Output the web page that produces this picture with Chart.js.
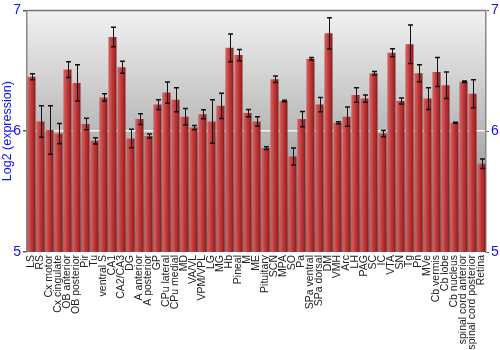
<!DOCTYPE html>
<html>
<head>
<meta charset="utf-8">
<script src="https://cdn.jsdelivr.net/npm/chart.js@4"></script>
<style>
  html, body { margin: 0; padding: 0; background: #fff; }
  #wrap { width: 500px; height: 350px; }
</style>
</head>
<body>
<div id="wrap"><canvas id="chartExpr"></canvas></div>
<script>
const regions = ['LS', 'RS', 'Cx motor', 'Cx cingulate', 'OB anterior', 'OB posterior', 'Pir', 'Tu',
    'ventral S', 'CA1', 'CA2/CA3', 'DG', 'A anterior', 'A posterior', 'GP', 'CPu lateral', 'CPu medial',
    'MD', 'VA/VL', 'VPM/VPL', 'LG', 'MG', 'Hb', 'Pineal', 'M', 'ME', 'Pituitary', 'SCN', 'MPA', 'SO', 'Pa',
    'SPa ventral', 'SPa dorsal', 'DM', 'VMH', 'Arc', 'LH', 'PAG', 'SC', 'IC', 'VTA', 'SN', 'Tg', 'Pn',
    'MVe', 'Cb vermis', 'Cb lobe', 'Cb nucleus', 'spinal cord anterior', 'spinal cord posterior', 'Retina'];

const expression = [6.45, 6.08, 6.01, 5.98, 6.51, 6.40, 6.06, 5.92, 6.28, 6.78, 6.53, 5.94, 6.10, 5.96,
    6.22, 6.32, 6.26, 6.12, 6.03, 6.14, 6.08, 6.21, 6.69, 6.63, 6.15, 6.08, 5.86, 6.43, 6.25, 5.79, 6.10,
    6.60, 6.22, 6.81, 6.07, 6.12, 6.30, 6.27, 6.48, 5.98, 6.65, 6.25, 6.72, 6.48, 6.27, 6.49, 6.38, 6.07,
    6.41, 6.31, 5.73];

const errors = [0.025, 0.13, 0.2, 0.083, 0.065, 0.15, 0.047, 0.025, 0.03, 0.08, 0.05, 0.077, 0.044, 0.017,
    0.04, 0.088, 0.1, 0.068, 0.018, 0.037, 0.18, 0.104, 0.115, 0.046, 0.03, 0.04, 0.011, 0.026, 0.006, 0.07,
    0.064, 0.011, 0.06, 0.13, 0.008, 0.08, 0.06, 0.03, 0.014, 0.026, 0.033, 0.024, 0.16, 0.07, 0.09, 0.12,
    0.11, 0.004, 0.006, 0.115, 0.039];

const yTicks = [5, 6, 7];

const BLUE = '#1010ff';
const BAR_PCT = 0.88;

// gray panel behind the bars + dark top border
const panelBg = {
    id: 'panelBg',
    beforeDraw(chart) {
        const a = chart.chartArea, ctx = chart.ctx;
        const g = ctx.createLinearGradient(0, a.top, 0, a.bottom);
        g.addColorStop(0, '#f2f2f2');
        g.addColorStop(1, '#7e7e7e');
        ctx.save();
        ctx.fillStyle = g;
        ctx.fillRect(a.left, a.top, a.right - a.left, a.bottom - a.top);
        ctx.strokeStyle = '#777';
        ctx.lineWidth = 1.5;
        ctx.beginPath();
        ctx.moveTo(a.left, a.top);
        ctx.lineTo(a.right, a.top);
        ctx.stroke();
        ctx.restore();
    }
};

const errorBars = {
    id: 'errorBars',
    afterDatasetsDraw(chart) {
        const xs = chart.scales.x, ys = chart.scales.y, ctx = chart.ctx;
        ctx.save();
        ctx.strokeStyle = '#111';
        expression.forEach((v, i) => {
            const x = Math.round(xs.getPixelForValue(i)) + 0.5;
            const top = ys.getPixelForValue(v + errors[i]);
            const bot = ys.getPixelForValue(v - errors[i]);
            ctx.lineWidth = 1;
            ctx.beginPath();
            ctx.moveTo(x, top);
            ctx.lineTo(x, bot);
            ctx.stroke();
            ctx.lineWidth = 1.5;
            ctx.beginPath();
            ctx.moveTo(x - 2.5, top); ctx.lineTo(x + 2.5, top);
            ctx.moveTo(x - 2.5, bot); ctx.lineTo(x + 2.5, bot);
            ctx.stroke();
        });
        ctx.restore();
    }
};

function barFill(c) {
    const chart = c.chart;
    const a = chart.chartArea;
    if (!a || c.dataIndex === undefined || !chart.scales.x) return '#b03030';
    const x = chart.scales.x.getPixelForValue(c.dataIndex);
    const w = (a.right - a.left) / regions.length * BAR_PCT;
    const g = chart.ctx.createLinearGradient(x - w / 2, 0, x + w / 2, 0);
    g.addColorStop(0, '#c04848');
    g.addColorStop(0.15, '#d45a5a');
    g.addColorStop(0.45, '#bf3a3a');
    g.addColorStop(0.85, '#a02424');
    g.addColorStop(1, '#761212');
    return g;
}

document.addEventListener("DOMContentLoaded", function() {
    const ctx = document.getElementById('chartExpr').getContext('2d');
    new Chart(ctx, {
        type: 'bar',
        data: {
            labels: regions,
            datasets: [{
                data: expression,
                backgroundColor: barFill,
                borderWidth: 0,
                barPercentage: BAR_PCT,
                categoryPercentage: 1.0
            }]
        },
        options: {
            responsive: true,
            maintainAspectRatio: false,
            animation: false,
            layout: { padding: { top: 10, left: 0, right: 0, bottom: 0 } },
            plugins: {
                legend: { display: false },
                tooltip: { enabled: false }
            },
            scales: {
                x: {
                    grid: { display: false, drawTicks: false },
                    border: { display: false },
                    ticks: {
                        autoSkip: false,
                        maxRotation: 90,
                        minRotation: 90,
                        padding: 3,
                        color: '#222',
                        font: { family: 'Liberation Sans, Arial, sans-serif', size: 10.5 }
                    },
                    afterFit: (s) => { s.height = 98; }
                },
                y: {
                    position: 'left',
                    min: 5,
                    max: 7,
                    afterBuildTicks: (s) => { s.ticks = yTicks.map(v => ({ value: v })); },
                    grid: {
                        color: (c) => c.tick && c.tick.value === 6 ? '#f4f4f4' : 'rgba(0,0,0,0)',
                        lineWidth: 1.5,
                        tickColor: '#555',
                        tickLength: 4
                    },
                    border: { color: '#888', width: 1.5 },
                    ticks: {
                        color: BLUE,
                        padding: 2,
                        font: { family: 'Liberation Sans, Arial, sans-serif', size: 14 }
                    },
                    title: {
                        display: true,
                        text: 'Log2 (expression)',
                        color: BLUE,
                        padding: 0,
                        font: { family: 'Liberation Sans, Arial, sans-serif', size: 12.5 }
                    },
                    afterFit: (s) => { s.width = 27; }
                },
                y2: {
                    position: 'right',
                    min: 5,
                    max: 7,
                    afterBuildTicks: (s) => { s.ticks = yTicks.map(v => ({ value: v })); },
                    grid: { drawOnChartArea: false, tickColor: '#555', tickLength: 3 },
                    border: { color: '#888', width: 1.5 },
                    ticks: {
                        color: BLUE,
                        padding: 2,
                        font: { family: 'Liberation Sans, Arial, sans-serif', size: 14 }
                    },
                    afterFit: (s) => { s.width = 14; }
                }
            }
        },
        plugins: [panelBg, errorBars]
    });
});
</script>
</body>
</html>
